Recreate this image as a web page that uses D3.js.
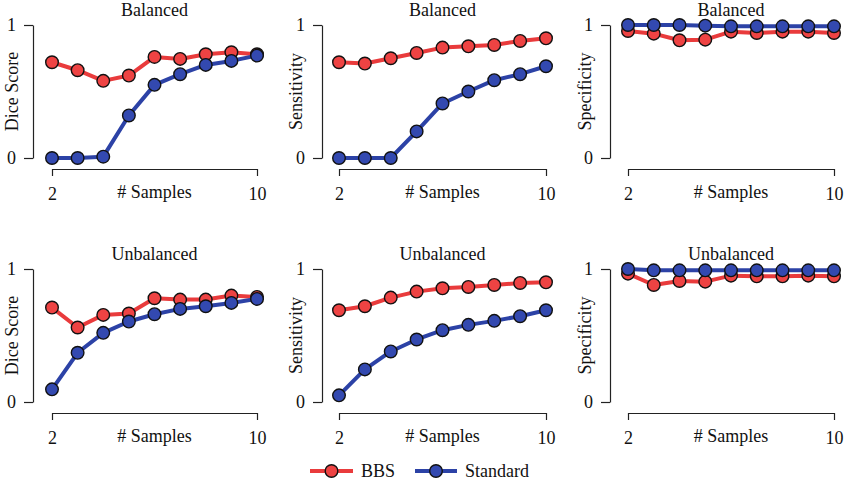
<!DOCTYPE html>
<html>
<head>
<meta charset="utf-8">
<script src="https://cdn.jsdelivr.net/npm/d3@7"></script>
<style>
  body { margin: 0; background: #fff; }
  svg { display: block; font-family: "Liberation Serif", "DejaVu Serif", serif; }
</style>
</head>
<body>
<svg id="chart" width="846" height="480"></svg>
<script>
const samples = [2, 3, 4, 5, 6, 7, 8, 9, 10];

const rowTitles = ["Balanced", "Unbalanced"];
const metricLabels = ["Dice Score", "Sensitivity", "Specificity"];
const seriesNames = ["BBS", "Standard"];

// balanced
const diceBalBBS = [0.72, 0.66, 0.58, 0.62, 0.76, 0.745, 0.78, 0.795, 0.78];
const diceBalStd = [0.0, 0.0, 0.01, 0.32, 0.55, 0.63, 0.70, 0.73, 0.77];
const sensBalBBS = [0.72, 0.71, 0.75, 0.79, 0.83, 0.84, 0.85, 0.88, 0.90];
const sensBalStd = [0.0, 0.0, 0.0, 0.20, 0.41, 0.50, 0.585, 0.63, 0.69];
const specBalBBS = [0.955, 0.935, 0.885, 0.89, 0.95, 0.94, 0.95, 0.95, 0.94];
const specBalStd = [1.0, 1.0, 1.0, 0.995, 0.99, 0.99, 0.99, 0.99, 0.99];

// unbalanced
const diceUnbBBS = [0.71, 0.56, 0.655, 0.665, 0.78, 0.77, 0.77, 0.80, 0.79];
const diceUnbStd = [0.095, 0.37, 0.52, 0.605, 0.66, 0.70, 0.72, 0.745, 0.775];
const sensUnbBBS = [0.69, 0.72, 0.785, 0.83, 0.855, 0.865, 0.88, 0.895, 0.90];
const sensUnbStd = [0.05, 0.245, 0.38, 0.47, 0.54, 0.58, 0.61, 0.645, 0.69];
const specUnbBBS = [0.965, 0.88, 0.91, 0.905, 0.95, 0.945, 0.945, 0.95, 0.945];
const specUnbStd = [1.0, 0.99, 0.99, 0.99, 0.99, 0.99, 0.99, 0.99, 0.99];

const panels = [
  [[diceBalBBS, diceBalStd], [sensBalBBS, sensBalStd], [specBalBBS, specBalStd]],
  [[diceUnbBBS, diceUnbStd], [sensUnbBBS, sensUnbStd], [specUnbBBS, specUnbStd]]
];

const colors = ["#e93b3c", "#2c42a6"];
const fills = ["#ee4343", "#3349b0"];

// layout
const colAxisX = [33, 322, 610];
const colLabelX = [12, 296, 585];
const colRange = [[52, 257], [339, 546], [628, 834]];
const rowTop = [25, 269];
const plotH = 133;
const fontSize = 18;

const svg = d3.select("#chart");

panels.forEach((row, r) => {
  row.forEach((series, c) => {
    const top = rowTop[r];
    const bottom = top + plotH;

    const x = d3.scaleLinear().domain([2, 10]).range(colRange[c]);
    const y = d3.scaleLinear().domain([0, 1]).range([bottom, top]);

    const g = svg.append("g");

    // y axis
    const yAxis = g.append("g")
      .attr("transform", `translate(${colAxisX[c]},0)`)
      .call(d3.axisLeft(y).tickValues([0, 1]).tickFormat(d3.format("d"))
        .tickSizeOuter(0).tickSizeInner(9).tickPadding(8));

    // x axis
    const xAxis = g.append("g")
      .attr("transform", `translate(0,${bottom + 11})`)
      .call(d3.axisBottom(x).tickValues([2, 10]).tickFormat(d3.format("d"))
        .tickSizeOuter(0).tickSizeInner(7).tickPadding(9));

    [yAxis, xAxis].forEach(ax => {
      ax.attr("font-family", null).attr("font-size", fontSize);
      ax.select(".domain").attr("stroke", "#222").attr("stroke-width", 1.2);
      ax.selectAll(".tick line").attr("stroke", "#222").attr("stroke-width", 1.2);
      ax.selectAll(".tick text").attr("fill", "#111");
    });
    xAxis.selectAll(".tick text").attr("dy", "0.85em");

    // x label
    g.append("text")
      .attr("x", (colRange[c][0] + colRange[c][1]) / 2)
      .attr("y", bottom + 40)
      .attr("text-anchor", "middle")
      .attr("font-size", fontSize)
      .attr("fill", "#111")
      .text("# Samples");

    // y label
    g.append("text")
      .attr("transform", `translate(${colLabelX[c]},${(top + bottom) / 2}) rotate(-90)`)
      .attr("text-anchor", "middle")
      .attr("dy", "0.35em")
      .attr("font-size", fontSize)
      .attr("fill", "#111")
      .text(metricLabels[c]);

    // title
    g.append("text")
      .attr("x", (colRange[c][0] + colRange[c][1]) / 2)
      .attr("y", top - 9)
      .attr("text-anchor", "middle")
      .attr("font-size", fontSize)
      .attr("fill", "#111")
      .text(rowTitles[r]);

    const line = d3.line()
      .x((d, i) => x(samples[i]))
      .y(d => y(d));

    series.forEach((vals, s) => {
      g.append("path")
        .datum(vals)
        .attr("fill", "none")
        .attr("stroke", colors[s])
        .attr("stroke-width", 4)
        .attr("stroke-linejoin", "round")
        .attr("d", line);

      g.selectAll(null)
        .data(vals)
        .enter().append("circle")
        .attr("cx", (d, i) => x(samples[i]))
        .attr("cy", d => y(d))
        .attr("r", 6.3)
        .attr("fill", fills[s])
        .attr("stroke", "#111")
        .attr("stroke-width", 1.4);
    });
  });
});

// legend
const legendY = 471;
const legendItems = [
  { x1: 310, x2: 353, tx: 361 },
  { x1: 415, x2: 457, tx: 465 }
];

const legend = svg.append("g").attr("id", "legend");
legendItems.forEach((it, i) => {
  legend.append("line")
    .attr("x1", it.x1).attr("x2", it.x2)
    .attr("y1", legendY).attr("y2", legendY)
    .attr("stroke", colors[i])
    .attr("stroke-width", 4);
  legend.append("circle")
    .attr("cx", (it.x1 + it.x2) / 2)
    .attr("cy", legendY)
    .attr("r", 6.3)
    .attr("fill", fills[i])
    .attr("stroke", "#111")
    .attr("stroke-width", 1.4);
  legend.append("text")
    .attr("x", it.tx)
    .attr("y", legendY)
    .attr("dy", "0.35em")
    .attr("font-size", fontSize)
    .attr("fill", "#111")
    .text(seriesNames[i]);
});
</script>
</body>
</html>
